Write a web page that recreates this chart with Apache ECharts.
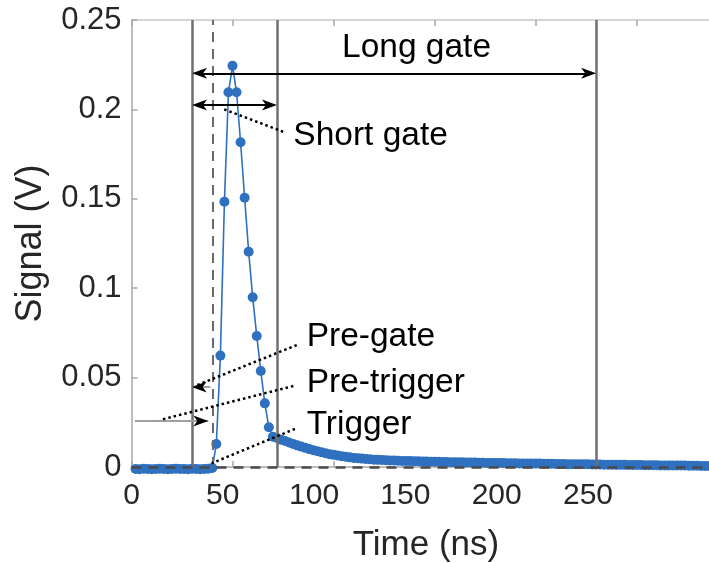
<!DOCTYPE html>
<html>
<head>
<meta charset="utf-8">
<style>
  html, body { margin: 0; padding: 0; background: #fff; }
  #main { width: 709px; height: 563px; }
</style>
<script src="https://cdn.jsdelivr.net/npm/echarts@6/dist/echarts.min.js"></script>
</head>
<body>
<div id="main"></div>
<script>
'use strict';
// digitizer samples, 2 ns apart (ns)
var time = [
    2, 4, 6, 8, 10, 12, 14, 16, 18, 20, 22, 24, 26, 28, 30, 32, 34, 36, 38,
    40, 42, 44, 46, 48, 50, 52, 54, 56, 58, 60, 62, 64, 66, 68, 70,
    72, 74, 76, 78, 80, 82, 84, 86, 88, 90, 92, 94, 96, 98, 100,
    102, 104, 106, 108, 110, 112, 114, 116, 118, 120, 122, 124, 126, 128, 130,
    132, 134, 136, 138, 140, 142, 144, 146, 148, 150, 152, 154, 156, 158, 160,
    162, 164, 166, 168, 170, 172, 174, 176, 178, 180, 182, 184, 186, 188, 190,
    192, 194, 196, 198, 200, 202, 204, 206, 208, 210, 212, 214, 216, 218, 220,
    222, 224, 226, 228, 230, 232, 234, 236, 238, 240, 242, 244, 246, 248, 250,
    252, 254, 256, 258, 260, 262, 264, 266, 268, 270, 272, 274, 276, 278, 280,
    282, 284, 286, 288, 290, 292, 294, 296
];
// signal (V)
var signal = [
    -0.0011, -0.0012, -0.0010, -0.0011, -0.0012, -0.0011, -0.0010, -0.0011, -0.0012, -0.0011,
    -0.0010, -0.0011, -0.0011, -0.0012, -0.0010, -0.0011, -0.0012, -0.0011, -0.0010,
    -0.0006, 0.0129, 0.0623, 0.1484, 0.2096, 0.2244, 0.2096, 0.1816, 0.1506, 0.1204,
    0.0949, 0.0733, 0.0537, 0.0356, 0.0222, 0.0169,
    0.0162, 0.0153, 0.0145, 0.0137, 0.0129, 0.0121, 0.0114, 0.0107, 0.0100, 0.0094,
    0.0088, 0.0082, 0.0077, 0.0072, 0.0068,
    0.0064, 0.0060, 0.0057, 0.0054, 0.0051, 0.0049, 0.0047, 0.0045, 0.0043, 0.0041,
    0.0040, 0.0039, 0.0038, 0.0037, 0.0036,
    0.0035, 0.0034, 0.0034, 0.0033, 0.0032, 0.0032, 0.0031, 0.0031, 0.0030, 0.0029,
    0.0029, 0.0028, 0.0028, 0.0027, 0.0027,
    0.0026, 0.0026, 0.0025, 0.0025, 0.0025, 0.0024, 0.0024, 0.0023, 0.0023, 0.0023,
    0.0022, 0.0022, 0.0021, 0.0021, 0.0021,
    0.0020, 0.0020, 0.0020, 0.0019, 0.0019, 0.0019, 0.0018, 0.0018, 0.0018, 0.0017,
    0.0017, 0.0017, 0.0016, 0.0016, 0.0016,
    0.0015, 0.0015, 0.0015, 0.0014, 0.0014, 0.0014, 0.0013, 0.0013, 0.0013, 0.0012,
    0.0012, 0.0012, 0.0011, 0.0011, 0.0011,
    0.0011, 0.0010, 0.0010, 0.0010, 0.0010, 0.0009, 0.0009, 0.0009, 0.0008, 0.0008,
    0.0008, 0.0008, 0.0007, 0.0007, 0.0007,
    0.0006, 0.0006, 0.0006, 0.0006, 0.0005, 0.0005, 0.0005, 0.0005
];
var xTickLabels = [0, 50, 100, 150, 200, 250];
var gateLines = [30, 72, 230];      // gate start, short gate end, long gate end (ns)
var triggerTime = 40;                // ns
var threshold = 0.0035;              // V
var notes = ['Long gate', 'Short gate', 'Pre-gate', 'Pre-trigger', 'Trigger'];

var FONT = '"Liberation Sans", Arial, Helvetica, sans-serif';
var AXIS_GRAY = '#a8a8a8';
var GATE_GRAY = '#6f6f6f';
var BLUE = '#2f70c0';
// arrow head pointing up, ECharts turns it along the line
var HEAD = 'path://M6,0L12,15L6,11L0,15Z';

var points = time.map(function (t, i) { return [t, signal[i]]; });

// grid runs off the right edge; ticks sit 101 px per 50 ns, tick labels 91.3 px per 50
var xMax = 589 / 2.02;
var labelMax = 589 / 1.826;

function arrowLine(x1, y1, x2, y2, headStart, headEnd, color) {
    return [
        { coord: [x1, y1], symbol: headStart ? HEAD : 'none', symbolSize: [11, 15] },
        { coord: [x2, y2], symbol: headEnd ? HEAD : 'none', symbolSize: [11, 15],
          lineStyle: { color: color || '#000', width: 2, type: 'solid' } }
    ];
}
function dotLine(x1, y1, x2, y2) {
    return [
        { coord: [x1, y1], symbol: 'none' },
        { coord: [x2, y2], symbol: 'none', lineStyle: { color: '#000', width: 2.5, type: [2.5, 3] } }
    ];
}
function note(i, x, y, pos) {
    return { name: notes[i], coord: [x, y], label: { position: pos || 'right' } };
}

var gateMarks = gateLines.map(function (g) {
    return { xAxis: g, lineStyle: { color: GATE_GRAY, width: 2.5, type: 'solid' } };
});

var chart = echarts.init(document.getElementById('main'));
chart.setOption({
    animation: false,
    backgroundColor: '#fff',
    grid: { left: 131.5, top: 20, width: 589, height: 447, outerBoundsMode: 'none', containLabel: false },
    xAxis: [
        {
            type: 'value', min: 0, max: xMax, interval: 50, position: 'bottom',
            axisLine: { lineStyle: { color: AXIS_GRAY, width: 1.5 } },
            axisTick: { inside: true, length: 6, lineStyle: { color: AXIS_GRAY, width: 1.5 } },
            axisLabel: { show: false },
            splitLine: { show: false }
        },
        {
            // tick labels only
            type: 'value', min: 0, max: labelMax, interval: 50, position: 'bottom',
            axisLine: { show: false },
            axisTick: { show: false },
            splitLine: { show: false },
            axisLabel: {
                fontSize: 30, color: '#262626', fontFamily: FONT, margin: 14,
                formatter: function (v) { return xTickLabels.indexOf(v) >= 0 ? String(v) : ''; }
            },
            name: 'Time (ns)', nameLocation: 'middle', nameGap: 61,
            nameTextStyle: { fontSize: 35, color: '#262626', fontFamily: FONT }
        },
        {
            type: 'value', min: 0, max: xMax, interval: 50, position: 'top',
            axisLine: { lineStyle: { color: '#c8c8c8', width: 1.5 } },
            axisTick: { inside: true, length: 6, lineStyle: { color: AXIS_GRAY, width: 1.5 } },
            axisLabel: { show: false },
            splitLine: { show: false }
        }
    ],
    yAxis: {
        type: 'value', min: 0, max: 0.25, interval: 0.05,
        axisLine: { show: true, lineStyle: { color: AXIS_GRAY, width: 1.5 } },
        axisTick: { show: true, inside: true, length: 6, lineStyle: { color: AXIS_GRAY, width: 1.5 } },
        axisLabel: { fontSize: 31, color: '#262626', fontFamily: FONT, margin: 10 },
        splitLine: { show: false },
        name: 'Signal (V)', nameLocation: 'middle', nameGap: 82,
        nameTextStyle: { fontSize: 36, color: '#262626', fontFamily: FONT }
    },
    series: [{
        type: 'line',
        xAxisIndex: 0,
        data: points,
        clip: false,
        symbol: 'circle',
        symbolSize: 10,
        itemStyle: { color: BLUE },
        lineStyle: { color: BLUE, width: 1.6 },
        markLine: {
            silent: true,
            symbol: 'none',
            label: { show: false },
            data: gateMarks.concat([
                { xAxis: triggerTime, lineStyle: { color: '#6a6a6a', width: 2, type: [10, 7] } },
                { yAxis: threshold, lineStyle: { color: '#4a4a4a', width: 2.5, type: [10, 7] } },
                // gate arrows
                arrowLine(33.7, 0.2202, 226.3, 0.2202, true, true),
                arrowLine(33.7, 0.2025, 68.3, 0.2025, true, true),
                // pre-gate / pre-trigger markers
                arrowLine(30, 0.0447, 39, 0.0447, false, false, '#a0a0a0'),
                arrowLine(33.5, 0.0447, 35, 0.0447, true, false),
                arrowLine(1.7, 0.0257, 38, 0.0257, false, false, '#a0a0a0'),
                arrowLine(33, 0.0257, 34.3, 0.0257, false, true),
                // leader lines
                dotLine(45.9, 0.2000, 75.1, 0.1875),
                dotLine(81.8, 0.0682, 31.4, 0.0453),
                dotLine(80.1, 0.0453, 14.1, 0.0263),
                dotLine(80.9, 0.0213, 39.7, 0.0021)
            ])
        },
        markPoint: {
            silent: true,
            symbol: 'circle',
            symbolSize: 0,
            label: {
                show: true, formatter: '{b}', distance: 0,
                fontSize: 33.5, color: '#000', fontFamily: FONT
            },
            data: [
                note(0, 141.1, 0.2346, 'inside'),
                note(1, 80.1, 0.1851),
                note(2, 86.7, 0.0729),
                note(3, 86.7, 0.0470),
                note(4, 86.7, 0.0237)
            ]
        }
    }]
});
</script>
</body>
</html>
